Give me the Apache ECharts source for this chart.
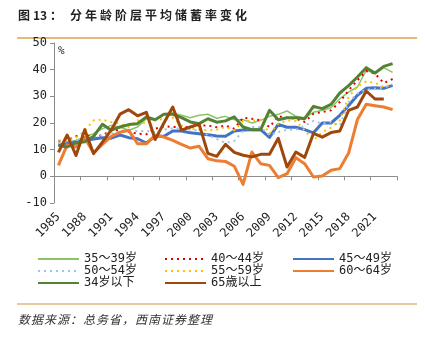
<!DOCTYPE html>
<html><head><meta charset="utf-8">
<script src="https://cdn.jsdelivr.net/npm/echarts@6/dist/echarts.min.js"></script>
<style>html,body{margin:0;padding:0;background:#fff}#c{width:425px;height:337px}</style>
</head><body><div id="c"></div>
<script>
const years = ['1985','1986','1987','1988','1989','1990','1991','1992','1993','1994','1995','1996','1997','1998','1999','2000','2001','2002','2003','2004','2005','2006','2007','2008','2009','2010','2011','2012','2013','2014','2015','2016','2017','2018','2019','2020','2021','2022','2023'];
const yTicks = {min: -10, max: 50, interval: 10};

const age3539 = [12.2,12.5,13.5,14.75,16,17.9,19.1,18.5,17.3,18.5, 21.6,21,23.5,23.75,22.9,22,22.9,23.3,21.8,22.5, 21.25,21.25,20,21,22.5,23.25,24.5,22.5,22,24, 24.75,25.75,29.1,31.6,33.5,39.75,38.5,40.75,39];
const age4044 = [13.25,13.5,15,15.5,15,15.4,17.25,17.25,16.6,16, 15.75,17.9,18.75,18.5,18.5,18.5,19.1,19.1,18.4,19, 17.9,22,21.6,21,18.5,22.5,22,21.6,20.4,23.5, 24.1,24.75,27.9,32.25,36,39.5,38.5,35,36.5];
const age4549 = [11.4,12.5,12.9,13.4,14,14.5,14.3,15.5,14.5,14.1, 12.5,15,15,17,17,16.3,16,15.6,15.1,15, 17,17.4,17.5,17.5,14.6,19.5,18.4,18.4,17.5,16.3, 20,20,22.9,26.6,30.4,33,33.2,33,34.1];
const age5054 = [12.5,13,13.5,14,15,15.5,16,16.8,17,17, 17,16.5,17.5,18,17.8,17.5,17.2,15.5,14,12.5, 13.3,17,18.5,18.5,15.4,16.6,17.5,17.5,19,20.75, 19.75,20.4,19,27.9,31,32.5,32.9,33.25,34.5];
const age5559 = [13.5,13.4,14.5,17,21,21.25,20.4,19.75,18.5,21, 19.75,21,21.6,22,19.1,17.9,17.5,17.25,17.5,18.5, 17.25,20.75,20.75,21.25,16,19.75,21,20.75,17.25,13.5, 16.6,18.25,21,29.75,33.75,35.6,35,33.5,34.5];
const age6064 = [4.1,11.8,11,14.5,8.75,12,15,16.5,17.25,12.25, 12.2,15.4,14.75,13.5,12,10.6,11.25,6.6,5.8,5.6, 3.8,-3,9.1,4.75,4.1,-0.5,1,7,4.75,-0.25, 0.1,2.25,2.9,8.75,21.3,27,26.5,26,25];
const ageU34 = [11.6,11,12.5,13,15,19.5,17.3,18.5,19.4,19.75, 22.25,21.25,23.25,23.25,22,20.4,19.75,21.6,20.3,20.8, 22.3,18.5,17.5,17.5,24.75,21.25,22,22,21.6,26.25, 25.4,27,31.25,34,37.25,40.75,38.75,41.25,42.25];
const age65p = [9,15.5,7.8,17.5,8.5,12.8,17.3,23.3,25,22.7, 24,13.8,20,26,17.3,18.5,19.6,8.6,7.5,12, 9,7.9,7.3,8.25,8.25,14.3,3.5,9.1,7.1,16.1, 14.7,16.4,17,24.7,26,32,29,29,null];

const names = ['35～39岁','40～44岁','45～49岁','50～54岁','55～59岁','60～64岁','34岁以下','65歳以上'];

const titleText = '图 13：分年龄阶层平均储蓄率变化';
const sourceText = '数据来源：总务省，西南证券整理';

const MONO = '"DejaVu Sans Mono","Noto Sans CJK SC",monospace';
const CJK = '"Noto Sans CJK SC","DejaVu Sans",sans-serif';

function mk(name, data, color, width, type) {
  return {
    name, type: 'line', data, symbol: 'none', showSymbol: false,
    lineStyle: {color, width, type: type || 'solid', cap: 'butt', join: 'round'},
    itemStyle: {color},
    xAxisIndex: 0, yAxisIndex: 0
  };
}

const series = [
  mk(names[0], age3539, '#8CC36A', 1.5),
  mk(names[1], age4044, '#E00000', 2, [2, 4]),
  mk(names[2], age4549, '#4472C4', 3),
  mk(names[3], age5054, '#9DC3E6', 2, [2, 4]),
  mk(names[4], age5559, '#FFC000', 2, [2, 4]),
  mk(names[5], age6064, '#ED7D31', 3),
  mk(names[6], ageU34, '#548235', 3),
  mk(names[7], age65p, '#9E480E', 3)
];

const graphics = [];
const tParts = [['图', 18], ['13', 33], ['：', 50]];
tParts.forEach(p => graphics.push({type: 'text', left: p[1], top: 9, style: {text: p[0], font: 'bold 12px ' + CJK, fill: '#222'}}));
const tRest = titleText.slice(5);
for (let k = 0; k < tRest.length; k++) {
  graphics.push({type: 'text', left: 70 + k * 15, top: 9, style: {text: tRest[k], font: 'bold 12px ' + CJK, fill: '#222'}});
}
graphics.push({type: 'line', shape: {x1: 17, y1: 38, x2: 417, y2: 38}, style: {stroke: '#D9A450', lineWidth: 1.5}});
graphics.push({type: 'line', shape: {x1: 17, y1: 304, x2: 417, y2: 304}, style: {stroke: '#C9963F', lineWidth: 1}});
for (let k = 0; k < sourceText.length; k++) {
  graphics.push({type: 'text', left: 18 + k * 13, top: 313, style: {text: sourceText[k], font: 'italic 12px ' + CJK, fill: '#333'}});
}
graphics.push({type: 'text', left: 58, top: 46, style: {text: '%', font: '11px ' + MONO, fill: '#222'}});

const legendCommon = {
  orient: 'vertical', itemWidth: 41, itemHeight: 14, itemGap: 0, padding: 0,
  itemStyle: {opacity: 0, color: 'rgba(0,0,0,0)', borderWidth: 0},
  textStyle: {fontFamily: MONO, fontSize: 12, color: '#222'}, selectedMode: false
};

const option = {
  animation: false,
  backgroundColor: '#fff',
  grid: {left: 54, right: 28, top: 43, bottom: 134, containLabel: false},
  xAxis: [
    {type: 'category', data: years, boundaryGap: true, position: 'bottom',
     axisLine: {onZero: true, lineStyle: {color: '#8C8C8C', width: 1}},
     axisTick: {show: true, interval: 2, length: 4, lineStyle: {color: '#8C8C8C'}},
     axisLabel: {show: false}, splitLine: {show: false}},
    {type: 'category', data: years, boundaryGap: true, position: 'bottom',
     axisLine: {show: false, onZero: false}, axisTick: {show: false},
     axisLabel: {show: true, interval: 2, rotate: 45, margin: 12, fontFamily: MONO, fontSize: 12, color: '#222'},
     splitLine: {show: false}}
  ],
  yAxis: {type: 'value', min: yTicks.min, max: yTicks.max, interval: yTicks.interval,
    axisLine: {show: true, lineStyle: {color: '#8C8C8C'}},
    axisTick: {show: true, length: 4, lineStyle: {color: '#8C8C8C'}},
    axisLabel: {fontFamily: MONO, fontSize: 12, color: '#222', margin: 7},
    splitLine: {show: false}},
  legend: [
    Object.assign({left: 37, top: 253, data: [names[0], names[3], names[6]]}, legendCommon),
    Object.assign({left: 164, top: 253, data: [names[1], names[4], names[7]]}, legendCommon),
    Object.assign({left: 292, top: 253, data: [names[2], names[5]]}, legendCommon)
  ],
  graphic: graphics,
  series
};

const chart = echarts.init(document.getElementById('c'), null, {renderer: 'canvas'});
chart.setOption(option);
</script>
</body></html>
